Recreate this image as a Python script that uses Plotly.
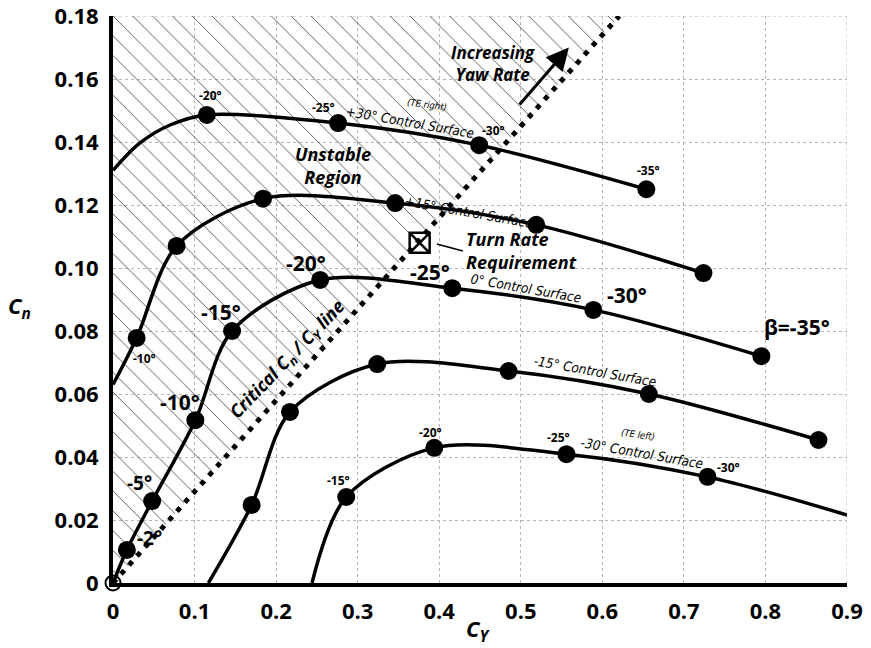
import plotly.graph_objects as go

# Axis extents and tick values
cy_ticks = [0, 0.1, 0.2, 0.3, 0.4, 0.5, 0.6, 0.7, 0.8, 0.9]
cn_ticks = [0, 0.02, 0.04, 0.06, 0.08, 0.10, 0.12, 0.14, 0.16, 0.18]
cy_tick_text = ["0", "0.1", "0.2", "0.3", "0.4", "0.5", "0.6", "0.7", "0.8", "0.9"]
cn_tick_text = ["0", "0.02", "0.04", "0.06", "0.08", "0.10", "0.12", "0.14", "0.16", "0.18"]

# Critical Cn / CY boundary
critical_slope = 0.29

# Curves for each control-surface deflection: (CY, Cn) vertices and marker points
cs_p30_cy = [0.0, 0.033, 0.07, 0.115, 0.276, 0.449, 0.654]
cs_p30_cn = [0.131, 0.1397, 0.1454, 0.1486, 0.146, 0.139, 0.125]
cs_p30_marks = [3, 4, 5, 6]

cs_p15_cy = [0.0, 0.029, 0.078, 0.184, 0.346, 0.519, 0.724]
cs_p15_cn = [0.063, 0.0778, 0.107, 0.122, 0.1206, 0.1137, 0.0984]
cs_p15_marks = [1, 2, 3, 4, 5, 6]

cs_0_cy = [0.0, 0.017, 0.048, 0.101, 0.146, 0.254, 0.416, 0.589, 0.795]
cs_0_cn = [0.0, 0.0105, 0.026, 0.0517, 0.080, 0.0962, 0.0936, 0.0867, 0.072]
cs_0_marks = [1, 2, 3, 4, 5, 6, 7, 8]

cs_m15_cy = [0.117, 0.170, 0.217, 0.324, 0.485, 0.657, 0.865]
cs_m15_cn = [0.0, 0.0248, 0.0543, 0.0695, 0.0673, 0.060, 0.0454]
cs_m15_marks = [1, 2, 3, 4, 5, 6]

cs_m30_cy = [0.244, 0.286, 0.394, 0.556, 0.729, 0.9]
cs_m30_cn = [0.0, 0.0273, 0.0429, 0.0409, 0.0337, 0.0216]
cs_m30_marks = [1, 2, 3, 4]

curves = [
    (cs_p30_cy, cs_p30_cn, cs_p30_marks),
    (cs_p15_cy, cs_p15_cn, cs_p15_marks),
    (cs_0_cy, cs_0_cn, cs_0_marks),
    (cs_m15_cy, cs_m15_cn, cs_m15_marks),
    (cs_m30_cy, cs_m30_cn, cs_m30_marks),
]

# Turn rate requirement point
turn_req_cy = [0.376]
turn_req_cn = [0.108]

BOLD = "Open Sans"
COND = "Liberation Sans Narrow, DejaVu Sans Condensed, Roboto Condensed, Roboto, sans-serif"

fig = go.Figure()

# Unstable (hatched) region above the critical line
top_cy = cn_ticks[-1] / critical_slope
fig.add_trace(go.Scatter(
    x=[0, top_cy, 0, 0], y=[0, cn_ticks[-1], cn_ticks[-1], 0],
    mode="lines", line=dict(width=0), fill="toself",
    fillcolor="rgba(0,0,0,0)",
    fillpattern=dict(shape="\\", fgcolor="#444444", bgcolor="rgba(0,0,0,0)",
                     size=14, solidity=0.06, fillmode="replace"),
    hoverinfo="skip", showlegend=False,
))

# Critical Cn / CY line
fig.add_trace(go.Scatter(
    x=[0, top_cy], y=[0, cn_ticks[-1]], mode="lines",
    line=dict(color="black", width=5, dash="5px,7px"),
    showlegend=False, cliponaxis=False,
))

for cx, cn, marks in curves:
    fig.add_trace(go.Scatter(
        x=cx, y=cn, mode="lines",
        line=dict(color="black", width=3.5, shape="spline", smoothing=0.9),
        showlegend=False, cliponaxis=False,
    ))
    fig.add_trace(go.Scatter(
        x=[cx[i] for i in marks], y=[cn[i] for i in marks], mode="markers",
        marker=dict(color="black", size=18),
        showlegend=False, cliponaxis=False,
    ))

# Origin
fig.add_trace(go.Scatter(
    x=[0], y=[0], mode="markers",
    marker=dict(symbol="circle-open", color="black", size=15, line=dict(width=2)),
    showlegend=False, cliponaxis=False,
))

# Turn rate requirement
fig.add_trace(go.Scatter(
    x=turn_req_cy, y=turn_req_cn, mode="markers",
    marker=dict(symbol="square-x-open", color="black", size=20, line=dict(width=2.5)),
    showlegend=False, cliponaxis=False,
))
fig.add_shape(type="line", x0=0.397, y0=0.1076, x1=0.429, y1=0.1054,
              line=dict(color="black", width=1.5))

# Grid lines on the far edges of the plot
fig.add_shape(type="line", x0=cy_ticks[0], x1=cy_ticks[-1], y0=cn_ticks[-1], y1=cn_ticks[-1],
              line=dict(color="#b5b5b5", width=1, dash="dot"), layer="below")
fig.add_shape(type="line", x0=cy_ticks[-1], x1=cy_ticks[-1], y0=cn_ticks[0], y1=cn_ticks[-1],
              line=dict(color="#b5b5b5", width=1, dash="dot"), layer="below")


def label(text, x, y, size, family=BOLD, bold=True, italic=False, angle=0,
          xanchor="center", align="center"):
    t = text
    if bold:
        t = "<b>" + t + "</b>"
    if italic:
        t = "<i>" + t + "</i>"
    fig.add_annotation(x=x, y=y, text=t, showarrow=False, textangle=angle,
                       xanchor=xanchor, yanchor="middle", align=align,
                       font=dict(family=family, size=size, color="black"))


# Small beta labels
label("-20°", 0.120, 0.1549, 12)
label("-25°", 0.258, 0.1510, 12)
label("-30°", 0.467, 0.1438, 12)
label("-35°", 0.657, 0.1308, 12)
label("-10°", 0.039, 0.0714, 12)
label("-15°", 0.276, 0.0327, 12)
label("-20°", 0.389, 0.0479, 12)
label("-25°", 0.546, 0.0463, 12)
label("-30°", 0.755, 0.0368, 12)

# Large beta labels along the 0° curve
label("-20°", 0.237, 0.1016, 21)
label("-25°", 0.389, 0.0987, 21)
label("-30°", 0.630, 0.0914, 21)
label("β=-35°", 0.839, 0.0813, 21)
label("-15°", 0.133, 0.0860, 21)
label("-10°", 0.082, 0.0575, 21)
label("-5°", 0.033, 0.0317, 19)
label("-2°", 0.045, 0.0143, 19)

# Control surface labels
label("+30° Control Surface", 0.364, 0.1463, 13.5, family=COND, bold=False, italic=True, angle=10)
label("(TE right)", 0.385, 0.1520, 9.5, family=COND, bold=False, italic=True, angle=8)
label("+15° Control Surface", 0.437, 0.1178, 13.5, family=COND, bold=False, italic=True, angle=10)
label("0° Control Surface", 0.506, 0.0936, 13.5, family=COND, bold=False, italic=True, angle=10)
label("-15° Control Surface", 0.591, 0.0672, 13.5, family=COND, bold=False, italic=True, angle=10)
label("-30° Control Surface", 0.649, 0.0413, 13.5, family=COND, bold=False, italic=True, angle=10)
label("(TE left)", 0.644, 0.0470, 9.5, family=COND, bold=False, italic=True, angle=8)

# Region and requirement captions
label("Unstable<br>Region", 0.270, 0.1327, 18, italic=True)
label("Increasing<br>Yaw Rate", 0.466, 0.1650, 17, italic=True)
label("Turn Rate<br>Requirement", 0.430, 0.1057, 18, italic=True, xanchor="left", align="left")
label("Critical C<sub>n</sub> / C<sub>Y</sub> line", 0.2146, 0.0708, 18, italic=True, angle=-46)

# Yaw rate arrow
fig.add_annotation(x=0.559, y=0.170, ax=0.497, ay=0.1514, axref="x", ayref="y",
                   text="", showarrow=True, arrowhead=2, arrowsize=1.5,
                   arrowwidth=3, arrowcolor="black")

# Axis titles
fig.add_annotation(x=-0.127, y=0.487, xref="paper", yref="paper", showarrow=False,
                   xanchor="center", yanchor="middle",
                   text="<b><i>C<sub>n</sub></i></b>",
                   font=dict(family=BOLD, size=22, color="black"))
fig.add_annotation(x=0.497, y=-0.083, xref="paper", yref="paper", showarrow=False,
                   xanchor="center", yanchor="middle",
                   text="<b><i>C<sub>Y</sub></i></b>",
                   font=dict(family=BOLD, size=22, color="black"))

axis_common = dict(
    showline=True, linewidth=4, linecolor="black", mirror=False,
    showgrid=True, gridcolor="#b5b5b5", gridwidth=1, griddash="dot",
    zeroline=False, ticks="", ticklabelstandoff=6, ticklabeloverflow="allow",
    automargin=False,
    tickfont=dict(family=BOLD, size=22, color="black", weight="bold"),
)

fig.update_xaxes(range=[cy_ticks[0], cy_ticks[-1] + 1e-6], tickvals=cy_ticks,
                 ticktext=cy_tick_text, **axis_common)
fig.update_yaxes(range=[cn_ticks[0], cn_ticks[-1] + 1e-6], tickvals=cn_ticks,
                 ticktext=cn_tick_text, **axis_common)

fig.update_layout(
    width=871, height=648,
    margin=dict(l=113, r=24, t=16, b=65, autoexpand=False),
    plot_bgcolor="white", paper_bgcolor="white",
    showlegend=False,
)

fig.write_html("out.html")
